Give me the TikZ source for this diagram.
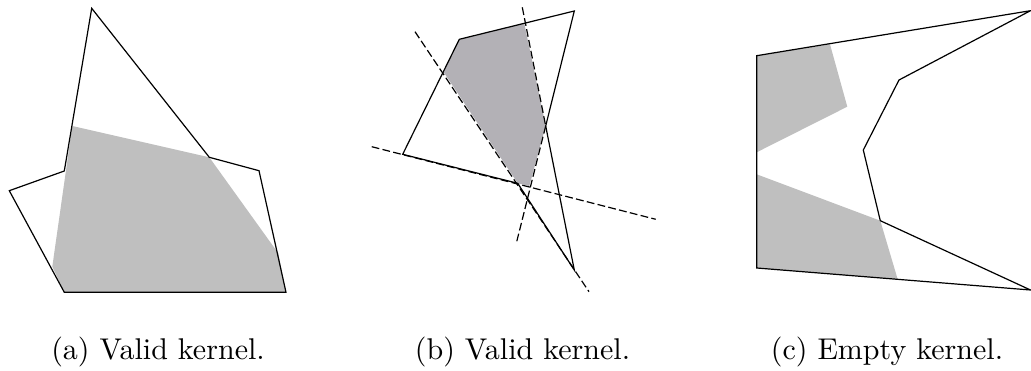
\documentclass[tikz,border=0pt]{standalone}
\usepackage{tikz}
\definecolor{kernelgray}{RGB}{191,191,191}
\definecolor{kernelmauve}{RGB}{179,177,182}

\begin{document}
\begin{tikzpicture}[
    x=0.3333pt, y=-0.3333pt,
    every node/.style={font=\normalsize},
    poly/.style={draw=black, line width=0.4pt},
    kernel/.style={fill=kernelgray},
    kernelb/.style={fill=kernelmauve},
    extline/.style={draw=black, line width=0.4pt, dash pattern=on 2.6pt off 1.1pt},
    caption/.style={anchor=base, inner sep=0pt}
]
\useasboundingbox (0,0) rectangle (1031,371);

\coordinate (aT) at (91.7,8.3);
\coordinate (aR1) at (209.3,157.3);
\coordinate (aR2) at (259,170.7);
\coordinate (aR3) at (286,292.3);
\coordinate (aBl) at (64.3,292.3);
\coordinate (aLf) at (9.3,190.7);
\coordinate (aLu) at (64.3,171);
\coordinate (aK1) at (72.3,126);
\coordinate (aK2) at (278.3,253.3);
\coordinate (aK3) at (52.3,266.7);
\fill[kernel] (aK1) -- (aR1) -- (aK2) -- (aR3) -- (aBl) -- (aK3) -- cycle;
\draw[poly] (aT) -- (aR1) -- (aR2) -- (aR3) -- (aBl) -- (aLf) -- (aLu) -- cycle;

\coordinate (bE) at (402.7,154.3);
\coordinate (bA) at (459.3,39.3);
\coordinate (bB) at (574.3,11);
\coordinate (bD) at (545.7,126);
\coordinate (bC) at (574.3,270);
\coordinate (bF) at (517.7,183.3);
\coordinate (bP1) at (524.3,23.3);
\coordinate (bP2) at (529.3,186);
\coordinate (bP3) at (443.3,71.7);
\coordinate (bCD) at (522.3,7.3);
\coordinate (bBD) at (516.7,241.7);
\coordinate (bFC1) at (415,31.7);
\coordinate (bFC2) at (589,291.7);
\coordinate (bEF1) at (371.7,146.7);
\coordinate (bEF2) at (655.7,219.3);
\fill[kernelb] (bA) -- (bP1) -- (bD) -- (bP2) -- (bF) -- (bP3) -- cycle;
\draw[poly] (bE) -- (bA) -- (bB) -- (bD) -- (bC) -- (bF) -- cycle;
\draw[extline] (bCD) -- (bD);
\draw[extline] (bD) -- (bBD);
\draw[extline] (bFC1) -- (bFC2);
\draw[extline] (bEF1) -- (bEF2);

\coordinate (cG) at (756.7,55.7);
\coordinate (cH) at (1030.5,10.7);
\coordinate (cI) at (899,80);
\coordinate (cJ) at (863.3,150);
\coordinate (cK) at (880.3,220.7);
\coordinate (cL) at (1030.5,290);
\coordinate (cM) at (756.7,268);
\fill[kernel] (cG) -- (830,44.3) -- (847.3,106.7) -- (756.7,152.3) -- cycle;
\fill[kernel] (756.7,174.3) -- (cK) -- (897.7,279.3) -- (cM) -- cycle;
\draw[poly] (cG) -- (cH) -- (cI) -- (cJ) -- (cK) -- (cL) -- (cM) -- cycle;

\node[caption] (capa) at (158,360) {(a) Valid kernel.};
\node[caption] (capb) at (522.5,360) {(b) Valid kernel.};
\node[caption] (capc) at (887,360) {(c) Empty kernel.};
\end{tikzpicture}
\end{document}
